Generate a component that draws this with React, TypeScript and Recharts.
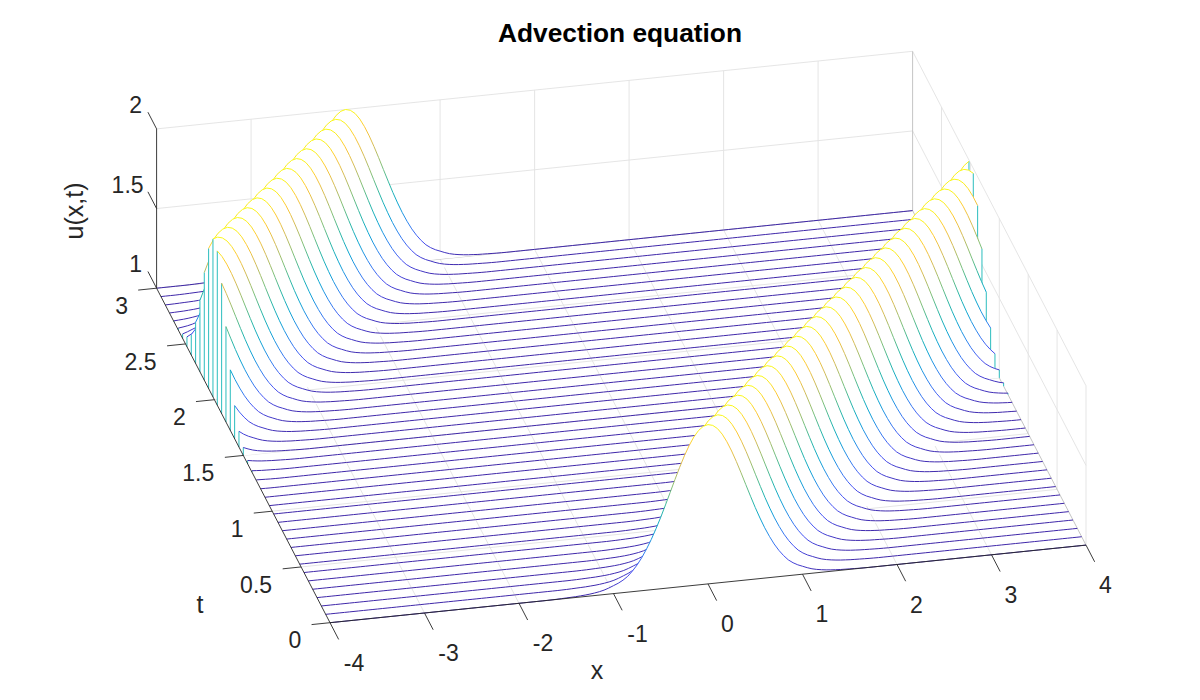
import React from "react";
import { ComposedChart, XAxis, YAxis, Area, ReferenceDot } from "recharts";

const xTicks = [-4, -3, -2, -1, 0, 1, 2, 3, 4];
const tTicks = [0, 0.5, 1, 1.5, 2, 2.5, 3];
const zTicks = [1, 1.5, 2];
const tValues = [
  0, 0.075, 0.15, 0.225, 0.3, 0.375, 0.45, 0.525, 0.6, 0.675, 0.75, 0.825, 0.9, 0.975,
  1.05, 1.125, 1.2, 1.275, 1.35, 1.425, 1.5, 1.575, 1.65, 1.725, 1.8, 1.875, 1.95, 2.025,
  2.1, 2.175, 2.25, 2.325, 2.4, 2.475, 2.55, 2.625, 2.7, 2.775, 2.85, 2.925, 3,
];
const pulseHeights = [
  1, 0.992, 0.969, 0.931, 0.88, 0.819, 0.75, 0.676, 0.599, 0.523, 0.449, 0.38, 0.316, 0.259,
  0.208, 0.165, 0.129, 0.099, 0.078, 0.062, 0.05, 0.038, 0.028, 0.021, 0.016, 0.012, 0.009,
  0.007, 0.005, 0.004, 0.003, 0.002, 0.001, 0.0005,
];
const parulaOffsets = [0, 0.125, 0.25, 0.375, 0.5, 0.625, 0.75, 0.875, 1];
const parulaColors = ["#3E26A8", "#4852F4", "#2D86EE", "#0BA6D0", "#2CB7A4", "#81BF78", "#D3BB58", "#FEC735", "#F9FB15"];

const GRID_STEPS = 160; // x from -4 to 4 in steps of 0.05
const STEPS_PER_SLICE = 3; // the crest moves 0.15 in x per slice
const INK = "#262626";
const GRID = "#e2e2e2";
const EDGE = "#bdbdbd";
const CURTAIN = "#2BBDBE";

// Orthographic view of the (x, t, u) box
const project = (x: number, t: number, z: number) => ({
  px: 330 + 94.5 * (x + 4) - 57.8 * t,
  py: 622.7 - 9.7 * (x + 4) - 111.5 * t - 159.3 * (z - 1),
});

const heightAt = (index: number, crest: number) => {
  const d0 = ((index - crest) % GRID_STEPS + GRID_STEPS) % GRID_STEPS;
  const d = Math.min(d0, GRID_STEPS - d0);
  return d < pulseHeights.length ? pulseHeights[d] : 0;
};

const buildSlice = (sliceIndex: number) => {
  const t = tValues[sliceIndex];
  const crest = GRID_STEPS / 2 + sliceIndex * STEPS_PER_SLICE;
  const rows: { px: number; py: number; floor: number; band: number[] }[] = [];
  for (let i = 0; i <= GRID_STEPS; i++) {
    const x = -4 + i * 0.05;
    const p = project(x, t, 1 + heightAt(i, crest));
    const f = project(x, t, 1);
    rows.push({ px: p.px, py: p.py, floor: f.py, band: [f.py, p.py] });
  }
  return rows;
};

const Seg = (key: string, a: number[], b: number[], color: string, width = 0.9) => {
  const data = [project(a[0], a[1], a[2]), project(b[0], b[1], b[2])];
  return (
    <Area
      key={key}
      data={data}
      dataKey="py"
      type="linear"
      fill="none"
      stroke={color}
      strokeWidth={width}
      dot={false}
      activeDot={false}
      isAnimationActive={false}
    />
  );
};

const TextMark = (key: string, px: number, py: number, value: string, fontSize = 23, extra: any = {}) => (
  <ReferenceDot
    key={key}
    x={px}
    y={py}
    r={0}
    stroke="none"
    fill="none"
    ifOverflow="visible"
    label={{
      value,
      position: "center",
      fontSize,
      fill: INK,
      fontFamily: "'Liberation Sans', Arial, sans-serif",
      ...extra,
    }}
  />
);

export default function App() {
  const slices = tValues.map((_, i) => buildSlice(i));
  const backToFront = tValues.map((_, i) => tValues.length - 1 - i);

  const grid = [
    ...xTicks.slice(1, -1).flatMap((x) => [
      Seg(`gfx${x}`, [x, 0, 1], [x, 3, 1], GRID),
      Seg(`gbx${x}`, [x, 3, 1], [x, 3, 2], GRID),
    ]),
    ...tTicks.slice(1, -1).flatMap((t) => [
      Seg(`gft${t}`, [-4, t, 1], [4, t, 1], GRID),
      Seg(`grt${t}`, [4, t, 1], [4, t, 2], GRID),
    ]),
    Seg("gbz", [-4, 3, 1.5], [4, 3, 1.5], GRID),
    Seg("grz", [4, 3, 1.5], [4, 0, 1.5], GRID),
    Seg("top1", [-4, 3, 2], [4, 3, 2], GRID),
    Seg("top2", [4, 3, 2], [4, 0, 2], GRID),
    Seg("edge3", [4, 0, 1], [4, 0, 2], GRID),
    Seg("edge1", [4, 3, 1], [4, 3, 2], EDGE),
    Seg("edge2", [4, 3, 1], [4, 0, 1], EDGE),
    Seg("edge4", [-4, 3, 1], [4, 3, 1], EDGE),
  ];

  const axes = [
    Seg("ax", [-4, 0, 1], [4, 0, 1], INK),
    Seg("at", [-4, 0, 1], [-4, 3, 1], INK),
    Seg("az", [-4, 3, 1], [-4, 3, 2], INK),
    ...xTicks.map((x) => Seg(`tx${x}`, [x, 0, 1], [x, -0.15, 1], INK)),
    ...tTicks.map((t) => Seg(`tt${t}`, [-4, t, 1], [-4.195, t, 1], INK)),
    ...zTicks.map((z) => Seg(`tz${z}`, [-4, 3, z], [-4, 3.15, z], INK)),
  ];

  const labels = [
    ...xTicks.map((x) => {
      const p = project(x, 0, 1);
      return TextMark(`lx${x}`, p.px + (x < 0 ? 24 : 19.5), p.py + 40, String(x));
    }),
    ...tTicks.map((t) => {
      const p = project(-4, t, 1);
      const w = String(t).length > 1 ? -10 : 0;
      return TextMark(`lt${t}`, p.px - 35 + w, p.py + 17.5, String(t));
    }),
    ...zTicks.map((z) => {
      const p = project(-4, 3, z);
      const w = String(z).length > 1 ? -8 : 0;
      return TextMark(`lz${z}`, p.px - 21 + w, p.py - 24, String(z));
    }),
    TextMark("xl", 597, 670, "x", 25),
    TextMark("tl", 200, 604, "t", 25),
    TextMark("zl", 74, 211, "u(x,t)", 25, { angle: -90 }),
    TextMark("title", 620, 33, "Advection equation", 26.3, { fontWeight: "bold", fill: "#000" }),
  ];

  const curtains = (i: number) => {
    const t = tValues[i];
    const crest = GRID_STEPS / 2 + i * STEPS_PER_SLICE;
    const h0 = heightAt(0, crest);
    const h1 = heightAt(GRID_STEPS, crest);
    const out = [];
    if (h0 > 0.004) out.push(Seg(`cl${i}`, [-4, t, 1], [-4, t, 1 + h0], CURTAIN, 1));
    if (h1 > 0.004) out.push(Seg(`cr${i}`, [4, t, 1], [4, t, 1 + h1], CURTAIN, 1));
    return out;
  };

  return (
    <div style={{ position: "fixed", left: 0, top: 0, width: 1200, height: 700, background: "#fff" }}>
      <ComposedChart width={1200} height={700} margin={{ top: 0, right: 0, bottom: 0, left: 0 }}>
        <defs>
          {tValues.map((t, i) => {
            const a = project(-4, t, 1);
            const b = project(4, t, 1);
            const dx = b.px - a.px;
            const dy = b.py - a.py;
            const len = Math.hypot(dx, dy);
            // the colour follows the height above the slice's own slanted floor
            const nx = dy / len;
            const ny = -dx / len;
            const rise = 159.3 * Math.abs(ny);
            return (
              <linearGradient
                key={i}
                id={`slice${i}`}
                gradientUnits="userSpaceOnUse"
                x1={a.px}
                y1={a.py}
                x2={a.px + nx * rise}
                y2={a.py + ny * rise}
              >
                {parulaOffsets.map((o, k) => (
                  <stop key={k} offset={o} stopColor={parulaColors[k]} />
                ))}
              </linearGradient>
            );
          })}
        </defs>
        <XAxis hide type="number" dataKey="px" domain={[0, 1200]} allowDataOverflow />
        <YAxis hide type="number" domain={[0, 700]} reversed allowDataOverflow />
        {grid}
        {backToFront.flatMap((i) => [
          <Area
            key={`fill${i}`}
            data={slices[i]}
            dataKey="band"
            type="linear"
            fill="#fff"
            fillOpacity={1}
            stroke="none"
            dot={false}
            activeDot={false}
            isAnimationActive={false}
          />,
          ...curtains(i),
          <Area
            key={`line${i}`}
            data={slices[i]}
            dataKey="py"
            type="linear"
            fill="none"
            stroke={`url(#slice${i})`}
            strokeWidth={1}
            dot={false}
            activeDot={false}
            isAnimationActive={false}
          />,
        ])}
        {axes}
        {labels}
      </ComposedChart>
    </div>
  );
}
